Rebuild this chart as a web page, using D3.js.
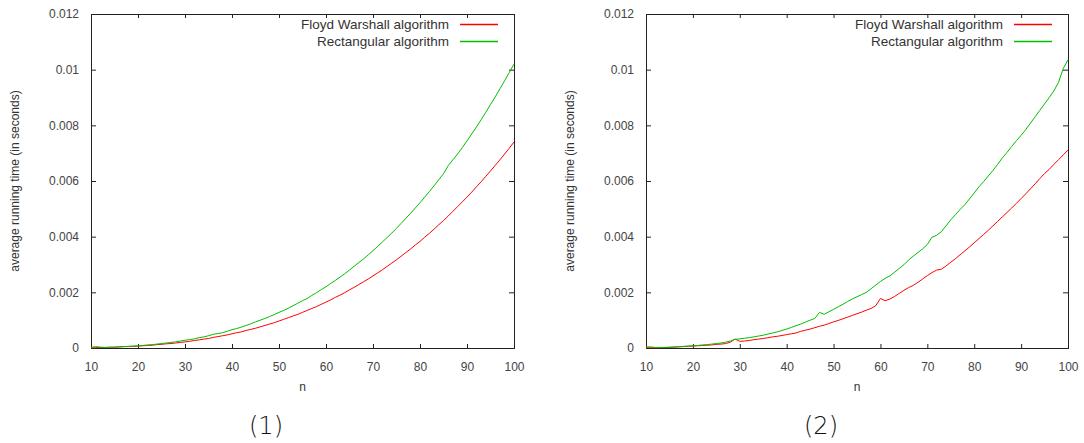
<!DOCTYPE html>
<html>
<head>
<meta charset="utf-8">
<script src="https://cdn.jsdelivr.net/npm/d3@7"></script>
<style>
  body { margin: 0; background: #fff; }
  svg { display: block; }
  text { font-family: "Liberation Sans", Arial, sans-serif; }
</style>
</head>
<body>
<div id="chart"></div>
<script>
// problem sizes n = 10 .. 100
var nValues = d3.range(10, 101);

// (1) average running time in seconds
var floyd1 = [0.00001, 0.00001, 0.00002, 0.00002, 0.00003, 0.00003, 0.00004, 0.00005, 0.00005, 0.00006,
  0.00007, 0.00008, 0.00009, 0.0001, 0.00012, 0.00013, 0.00015, 0.00016, 0.00018, 0.0002,
  0.00022, 0.00024, 0.00027, 0.00029, 0.00032, 0.00034, 0.00038, 0.00041, 0.00044, 0.00047,
  0.00051, 0.00055, 0.00058, 0.00063, 0.00067, 0.00071, 0.00076, 0.00081, 0.00086, 0.00091,
  0.00097, 0.00103, 0.00109, 0.00115, 0.00121, 0.00128, 0.00135, 0.00142, 0.00149, 0.00157,
  0.00165, 0.00173, 0.00182, 0.0019, 0.00199, 0.00209, 0.00218, 0.00228, 0.00238, 0.00248,
  0.00259, 0.0027, 0.00281, 0.00293, 0.00305, 0.00317, 0.0033, 0.00343, 0.00356, 0.0037,
  0.00383, 0.00398, 0.00412, 0.00427, 0.00443, 0.00458, 0.00474, 0.00491, 0.00508, 0.00525,
  0.00542, 0.0056, 0.00579, 0.00597, 0.00617, 0.00636, 0.00656, 0.00676, 0.00697, 0.00718,
  0.0074];
var rect1 = [0.00002, 0.00005, 0.00003, 0.00002, 0.00002, 0.00003, 0.00004, 0.00005, 0.00006, 0.00007,
  0.00008, 0.00009, 0.00011, 0.00012, 0.00014, 0.00016, 0.00018, 0.0002, 0.00022, 0.00025,
  0.00028, 0.0003, 0.00033, 0.00037, 0.0004, 0.00044, 0.00049, 0.00052, 0.00055, 0.0006,
  0.00066, 0.0007, 0.00075, 0.00081, 0.00087, 0.00094, 0.001, 0.00106, 0.00113, 0.0012,
  0.00128, 0.00135, 0.00143, 0.00152, 0.00161, 0.0017, 0.00178, 0.00189, 0.00199, 0.0021,
  0.0022, 0.00232, 0.00243, 0.00255, 0.00267, 0.0028, 0.00294, 0.00307, 0.0032, 0.00335,
  0.0035, 0.00365, 0.00381, 0.00397, 0.00413, 0.0043, 0.00448, 0.00466, 0.00484, 0.00503,
  0.00522, 0.00542, 0.00562, 0.00583, 0.00605, 0.00626, 0.00655, 0.00676, 0.00697, 0.0072,
  0.00744, 0.00769, 0.00794, 0.0082, 0.00847, 0.00875, 0.00902, 0.00931, 0.0096, 0.0099,
  0.0102];

// (2) second run
var floyd2 = [0.00001, 0.00001, 0.00001, 0.00001, 0.00002, 0.00002, 0.00003, 0.00004, 0.00005, 0.00006,
  0.00007, 0.00008, 0.00009, 0.0001, 0.00011, 0.00013, 0.00014, 0.00016, 0.00021, 0.00032,
  0.00024, 0.00025, 0.00027, 0.0003, 0.00032, 0.00034, 0.00037, 0.0004, 0.00042, 0.00045,
  0.00048, 0.00051, 0.00054, 0.0006, 0.00064, 0.00068, 0.00073, 0.00078, 0.00082, 0.00088,
  0.00094, 0.00099, 0.00105, 0.00111, 0.00117, 0.00123, 0.00129, 0.00136, 0.00142, 0.00152,
  0.00178, 0.0017, 0.00176, 0.00185, 0.00196, 0.00207, 0.00217, 0.00225, 0.00236, 0.00248,
  0.0026, 0.00271, 0.0028, 0.00283, 0.00295, 0.00308, 0.00321, 0.00335, 0.00349, 0.00363,
  0.00378, 0.00393, 0.00408, 0.00423, 0.00439, 0.00455, 0.00471, 0.00487, 0.00503, 0.0052,
  0.00537, 0.00554, 0.00572, 0.0059, 0.00609, 0.00627, 0.00642, 0.0066, 0.00677, 0.00694,
  0.00711];
var rect2 = [0.00004, 0.00004, 0.00002, 0.00002, 0.00002, 0.00003, 0.00004, 0.00005, 0.00006, 0.00007,
  0.00008, 0.00009, 0.00011, 0.00012, 0.00014, 0.00016, 0.00018, 0.00021, 0.00025, 0.00031,
  0.00033, 0.00035, 0.00037, 0.0004, 0.00043, 0.00046, 0.0005, 0.00054, 0.00058, 0.00063,
  0.00068, 0.00074, 0.0008, 0.00086, 0.00093, 0.001, 0.00106, 0.00128, 0.00121, 0.0013,
  0.00139, 0.00148, 0.00157, 0.00167, 0.00176, 0.00184, 0.00192, 0.002, 0.00213, 0.00226,
  0.00239, 0.0025, 0.00259, 0.00272, 0.00286, 0.00299, 0.00316, 0.0033, 0.00343, 0.00356,
  0.00372, 0.00398, 0.00405, 0.00418, 0.00439, 0.00461, 0.00479, 0.00498, 0.00515, 0.00536,
  0.00557, 0.00579, 0.00598, 0.00618, 0.00638, 0.0066, 0.00683, 0.00703, 0.00724, 0.00745,
  0.00764, 0.00785, 0.00808, 0.00831, 0.00854, 0.00877, 0.009, 0.00924, 0.00955, 0.01005,
  0.01035];

var xTicks = [10, 20, 30, 40, 50, 60, 70, 80, 90, 100];
var yTicks = [0, 0.002, 0.004, 0.006, 0.008, 0.01, 0.012];
var yTickLabels = ["0", "0.002", "0.004", "0.006", "0.008", "0.01", "0.012"];
var seriesNames = ["Floyd Warshall algorithm", "Rectangular algorithm"];
var seriesColors = ["#ff0000", "#00c000"];

var panels = [
  {left: 91, right: 514, tag: "(1)", tagX: 266, yLabelX: 15, series: [floyd1, rect1]},
  {left: 646, right: 1068, tag: "(2)", tagX: 821, yLabelX: 570, series: [floyd2, rect2]}
];
var plotTop = 14, plotBottom = 348;

var svg = d3.select("#chart")
  .append("svg")
    .attr("width", 1084)
    .attr("height", 443);

panels.forEach(function(p) {
  var x = d3.scaleLinear().domain([10, 100]).range([p.left, p.right]);
  var y = d3.scaleLinear().domain([0, 0.012]).range([plotBottom, plotTop]);

  var g = svg.append("g");

  // axes, ticks pointing inward (gnuplot style, mirrored)
  g.append("g")
    .attr("transform", "translate(0," + plotBottom + ")")
    .call(d3.axisBottom(x).tickValues(xTicks).tickSize(-4).tickPadding(14));
  g.append("g")
    .attr("transform", "translate(" + p.left + ",0)")
    .call(d3.axisLeft(y).tickValues(yTicks).tickSize(-5).tickPadding(12)
      .tickFormat(function(d, i) { return yTickLabels[i]; }));
  g.append("g")
    .attr("transform", "translate(0," + plotTop + ")")
    .call(d3.axisTop(x).tickValues(xTicks).tickSize(-4).tickFormat(""));
  g.append("g")
    .attr("transform", "translate(" + p.right + ",0)")
    .call(d3.axisRight(y).tickValues(yTicks).tickSize(-5).tickFormat(""));

  g.selectAll(".domain").remove();
  g.selectAll(".tick line").attr("stroke", "#222");
  g.selectAll(".tick text")
    .style("font-family", "Liberation Sans, Arial, sans-serif")
    .style("font-size", "12px")
    .attr("fill", "#444");

  // border
  g.append("rect")
    .attr("x", p.left + 0.5)
    .attr("y", plotTop + 0.5)
    .attr("width", p.right - p.left)
    .attr("height", plotBottom - plotTop)
    .attr("fill", "none")
    .attr("stroke", "#222")
    .attr("stroke-width", 1);

  // lines
  var line = d3.line()
    .x(function(d, i) { return x(nValues[i]); })
    .y(function(d) { return y(d); });
  p.series.forEach(function(s, k) {
    g.append("path")
      .datum(s)
      .attr("fill", "none")
      .attr("stroke", seriesColors[k])
      .attr("stroke-width", 1)
      .attr("d", line);
  });

  // legend
  seriesNames.forEach(function(name, k) {
    var ly = 24 + k * 17;
    g.append("text")
      .attr("x", p.right - 65)
      .attr("y", ly + 5)
      .attr("text-anchor", "end")
      .style("font-size", "13.5px")
      .attr("fill", "#333")
      .text(name);
    g.append("line")
      .attr("x1", p.right - 54)
      .attr("x2", p.right - 16)
      .attr("y1", ly + 0.5)
      .attr("y2", ly + 0.5)
      .attr("stroke", seriesColors[k])
      .attr("stroke-width", 1.3);
  });

  // axis titles
  g.append("text")
    .attr("x", (p.left + p.right) / 2)
    .attr("y", 391)
    .attr("text-anchor", "middle")
    .style("font-size", "12px")
    .attr("fill", "#333")
    .text("n");
  g.append("text")
    .attr("transform", "translate(" + (p.yLabelX + 4) + "," + ((plotTop + plotBottom) / 2) + ") rotate(-90)")
    .attr("text-anchor", "middle")
    .style("font-size", "12px")
    .attr("fill", "#333")
    .text("average running time (in seconds)");

  // panel tag
  g.append("text")
    .attr("x", p.tagX)
    .attr("y", 434)
    .attr("text-anchor", "middle")
    .style("font-family", "DejaVu Sans, sans-serif")
    .style("font-size", "24px")
    .style("font-weight", "300")
    .attr("fill", "#111")
    .text(p.tag);
});
</script>
</body>
</html>
